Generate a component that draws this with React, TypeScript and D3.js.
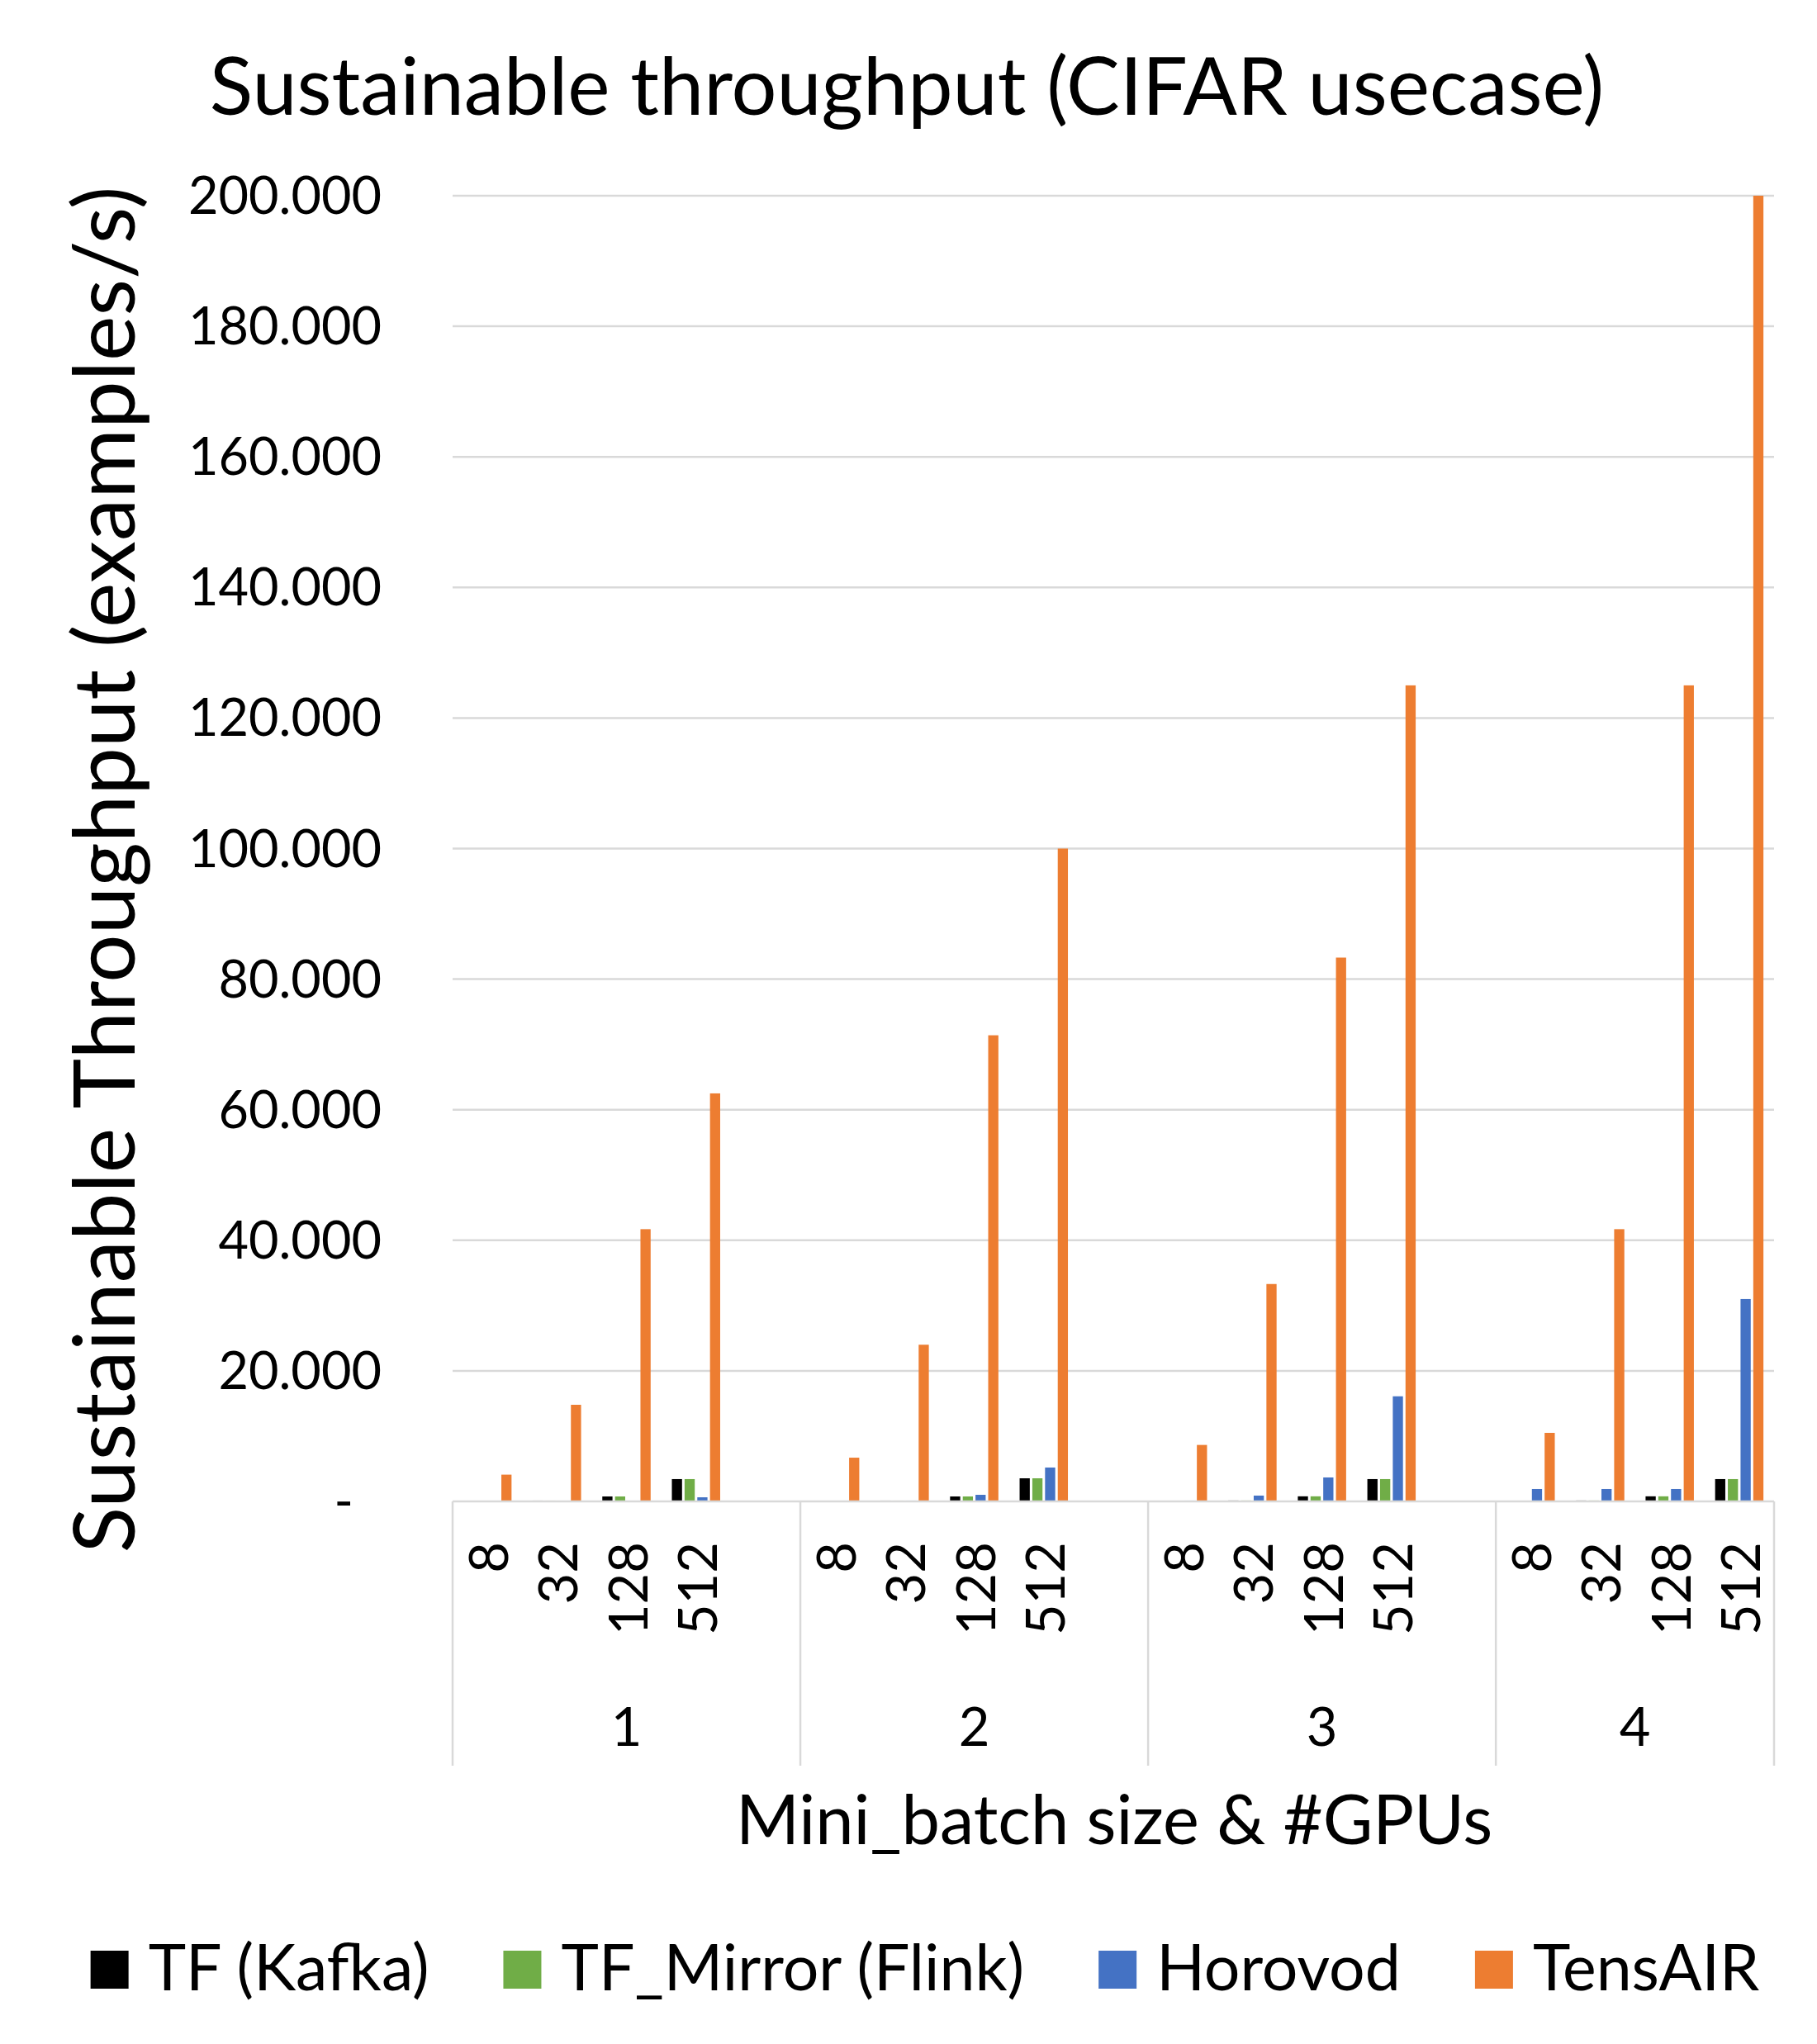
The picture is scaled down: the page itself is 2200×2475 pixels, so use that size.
import { useEffect, useRef } from "react";
import * as d3 from "d3";

// GPU count groups and mini-batch sizes on the two-level category axis
const gpuGroups = ["1", "2", "3", "4"];
const batchSizes = ["8", "32", "128", "512"];

const seriesNames = ["TF (Kafka)", "TF_Mirror (Flink)", "Horovod", "TensAIR"];
const seriesColors = ["#000000", "#70AD47", "#4472C4", "#ED7D31"];

// values per group, in batch size order (examples/s)
const tfKafka = [
  [40, 130, 760, 3420],
  [40, 130, 760, 3540],
  [40, 140, 780, 3420],
  [40, 140, 780, 3420],
];
const tfMirror = [
  [40, 130, 760, 3420],
  [40, 130, 760, 3540],
  [40, 140, 780, 3420],
  [40, 140, 780, 3420],
];
const horovod = [
  [0, 0, 0, 630],
  [0, 130, 1010, 5190],
  [130, 890, 3670, 16100],
  [1900, 1900, 1900, 31000],
];
const tensair = [
  [4100, 14800, 41700, 62500],
  [6700, 24000, 71400, 100000],
  [8650, 33300, 83300, 125000],
  [10500, 41700, 125000, 200000],
];

const yTicks = [0, 20000, 40000, 60000, 80000, 100000, 120000, 140000, 160000, 180000, 200000];

const FONT = "Lato, 'Open Sans', sans-serif";

export default function App() {
  const svgRef = useRef<SVGSVGElement | null>(null);

  useEffect(() => {
    const svg = d3.select(svgRef.current);
    svg.selectAll("*").remove();

    const width = 2200;
    const margin = { top: 237, left: 548, right: 52 };
    const baseline = 1818;
    const catBottom = 2138;

    // one slot per batch size, plus an empty slot between groups
    const slots: string[] = [];
    gpuGroups.forEach((g, gi) => {
      batchSizes.forEach((b) => slots.push(`${g}|${b}`));
      if (gi < gpuGroups.length - 1) slots.push(`${g}|gap`);
    });

    const x0 = d3
      .scaleBand()
      .domain(slots)
      .range([margin.left, width - margin.right])
      .padding(0);

    const clusterW = 58.5;
    const x1 = d3
      .scaleBand()
      .domain(seriesNames)
      .range([0, clusterW])
      .paddingInner(0.2)
      .paddingOuter(0);
    const clusterOffset = (x0.bandwidth() - clusterW) / 2;

    const y = d3.scaleLinear().domain([0, 200000]).range([baseline, margin.top]);

    const allSeries = [tfKafka, tfMirror, horovod, tensair];
    const rows: { key: string; s: number; v: number }[] = [];
    gpuGroups.forEach((g, gi) => {
      batchSizes.forEach((b, bi) => {
        allSeries.forEach((ser, si) => {
          rows.push({ key: `${g}|${b}`, s: si, v: ser[gi][bi] });
        });
      });
    });

    // gridlines
    svg
      .append("g")
      .selectAll("line")
      .data(yTicks.filter((t) => t > 0))
      .join("line")
      .attr("x1", margin.left)
      .attr("x2", width - margin.right)
      .attr("y1", (d) => y(d))
      .attr("y2", (d) => y(d))
      .attr("stroke", "#d9d9d9")
      .attr("stroke-width", 2.5);

    // y tick labels
    svg
      .append("g")
      .selectAll("text")
      .data(yTicks)
      .join("text")
      .attr("x", (d) => (d === 0 ? 428 : 462))
      .attr("y", (d) => y(d))
      .attr("dy", "0.35em")
      .attr("text-anchor", "end")
      .attr("font-family", FONT)
      .attr("font-size", 63)
      .attr("fill", "#000")
      .text((d) => (d === 0 ? "-" : d3.format(",")(d).replace(/,/g, ".")));

    // bars
    svg
      .append("g")
      .selectAll("rect")
      .data(rows)
      .join("rect")
      .attr("x", (d) => (x0(d.key) as number) + clusterOffset + (x1(seriesNames[d.s]) as number))
      .attr("y", (d) => y(d.v))
      .attr("width", x1.bandwidth())
      .attr("height", (d) => baseline - y(d.v))
      .attr("fill", (d) => seriesColors[d.s]);

    // category axis line
    svg
      .append("line")
      .attr("x1", margin.left)
      .attr("x2", width - margin.right)
      .attr("y1", baseline)
      .attr("y2", baseline)
      .attr("stroke", "#d9d9d9")
      .attr("stroke-width", 2.5);

    // group dividers
    const groupStarts = gpuGroups.map((g) => x0(`${g}|${batchSizes[0]}`) as number);
    const dividers = [...groupStarts, width - margin.right];
    svg
      .append("g")
      .selectAll("line")
      .data(dividers)
      .join("line")
      .attr("x1", (d) => d)
      .attr("x2", (d) => d)
      .attr("y1", baseline)
      .attr("y2", catBottom)
      .attr("stroke", "#d9d9d9")
      .attr("stroke-width", 2.5);

    // batch size labels, rotated
    const inner = gpuGroups.flatMap((g) => batchSizes.map((b) => ({ key: `${g}|${b}`, b })));
    svg
      .append("g")
      .selectAll("text")
      .data(inner)
      .join("text")
      .attr(
        "transform",
        (d) => `translate(${(x0(d.key) as number) + x0.bandwidth() / 2},1867) rotate(-90)`
      )
      .attr("text-anchor", "end")
      .attr("dominant-baseline", "central")
      .attr("font-family", FONT)
      .attr("font-size", 65)
      .attr("fill", "#000")
      .text((d) => d.b);

    // GPU count labels
    svg
      .append("g")
      .selectAll("text")
      .data(gpuGroups)
      .join("text")
      .attr("x", (d, i) => (dividers[i] + dividers[i + 1]) / 2)
      .attr("y", 2114)
      .attr("text-anchor", "middle")
      .attr("font-family", FONT)
      .attr("font-size", 65)
      .attr("fill", "#000")
      .text((d) => d);

    // title
    svg
      .append("text")
      .attr("x", 1098)
      .attr("y", 139)
      .attr("text-anchor", "middle")
      .attr("font-family", FONT)
      .attr("font-size", 97)
      .attr("fill", "#000")
      .text("Sustainable throughput (CIFAR usecase)");

    // y axis title
    svg
      .append("text")
      .attr("transform", "translate(163,1053) rotate(-90)")
      .attr("text-anchor", "middle")
      .attr("font-family", FONT)
      .attr("font-size", 103)
      .attr("fill", "#000")
      .text("Sustainable Throughput (examples/s)");

    // x axis title
    svg
      .append("text")
      .attr("x", 1349)
      .attr("y", 2233)
      .attr("text-anchor", "middle")
      .attr("font-family", FONT)
      .attr("font-size", 83)
      .attr("fill", "#000")
      .text("Mini_batch size & #GPUs");

    // legend, laid out from measured text widths
    const legend = svg.append("g");
    const sw = 46;
    const textGap = 24;
    const itemGap = 90;
    const items = seriesNames.map((name, i) => {
      const g = legend.append("g");
      g.append("rect")
        .attr("width", sw)
        .attr("height", sw)
        .attr("y", 2362)
        .attr("fill", seriesColors[i]);
      const t = g
        .append("text")
        .attr("x", sw + textGap)
        .attr("y", 2410)
        .attr("font-family", FONT)
        .attr("font-size", 77)
        .attr("fill", "#000")
        .text(name);
      const w = (t.node() as SVGTextElement).getComputedTextLength();
      return { g, w: sw + textGap + w };
    });
    const total = d3.sum(items, (d) => d.w) + itemGap * (items.length - 1);
    let cx = 1120 - total / 2;
    items.forEach((it) => {
      it.g.attr("transform", `translate(${cx},0)`);
      cx += it.w + itemGap;
    });
  }, []);

  return (
    <svg
      ref={svgRef}
      width={2200}
      height={2475}
      style={{ position: "absolute", left: 0, top: 0, background: "#fff" }}
    />
  );
}
